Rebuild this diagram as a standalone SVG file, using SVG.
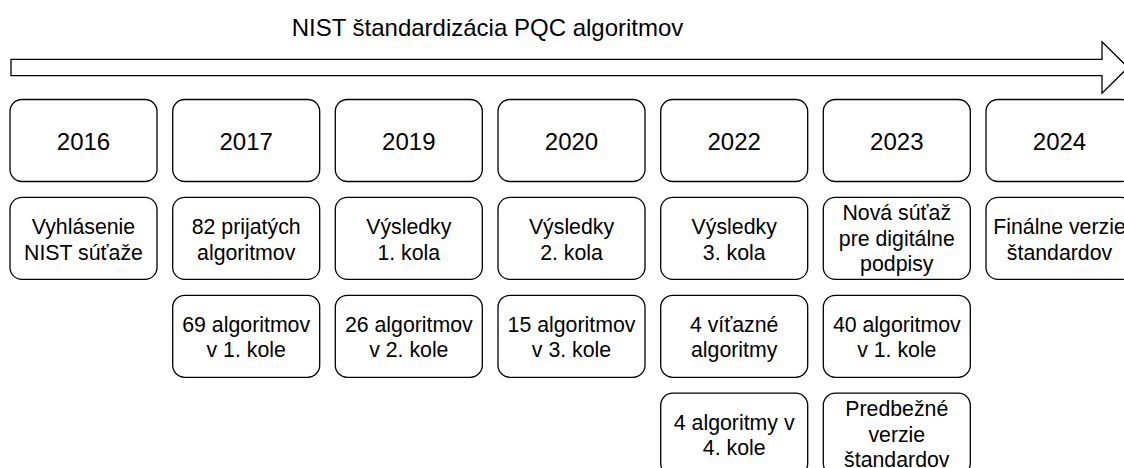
<svg xmlns="http://www.w3.org/2000/svg" width="1124" height="468" viewBox="0 0 1124 468">
<style>
.box{fill:#fff;stroke:#000;stroke-width:1.3}
.yr{font-family:"Liberation Sans",Arial,sans-serif;font-size:24px;fill:#000;text-anchor:middle}
.t{font-family:"Liberation Sans",Arial,sans-serif;font-size:21.3px;fill:#000;text-anchor:middle}
.title{font-family:"Liberation Sans",Arial,sans-serif;font-size:24px;fill:#000;text-anchor:middle}
</style>
<rect width="1124" height="468" fill="#fff"/>
<text class="title" x="487.5" y="36">NIST štandardizácia PQC algoritmov</text>
<g id="timeline-arrow">
<path d="M11,59.3 L1102,59.3 L1102,41.7 L1128,67.5 L1102,93.3 L1102,75.7 L11,75.7 Z" fill="#fff" stroke="#000" stroke-width="1.3" stroke-linejoin="miter"/>
</g>
<g id="connectors"></g>

<!-- column 0 -->
<g id="y2016"><rect class="box" x="10" y="99.5" width="147" height="82" rx="12"/><text class="yr" x="83.5" y="149.5">2016</text></g>
<g id="n2016a"><rect class="box" x="10" y="197.4" width="147" height="82" rx="12"/><text class="t" x="83.5" y="233.9">Vyhlásenie<tspan x="83.5" dy="25.6">NIST súťaže</tspan></text></g>

<!-- column 1 -->
<g id="y2017"><rect class="box" x="172.7" y="99.5" width="147" height="82" rx="12"/><text class="yr" x="246.2" y="149.5">2017</text></g>
<g id="n2017a"><rect class="box" x="172.7" y="197.4" width="147" height="82" rx="12"/><text class="t" x="246.2" y="233.9">82 prijatých<tspan x="246.2" dy="25.6">algoritmov</tspan></text></g>
<g id="n2017b"><rect class="box" x="172.7" y="295.3" width="147" height="82" rx="12"/><text class="t" x="246.2" y="331.8">69 algoritmov<tspan x="246.2" dy="25.6">v 1. kole</tspan></text></g>

<!-- column 2 -->
<g id="y2019"><rect class="box" x="335.3" y="99.5" width="147" height="82" rx="12"/><text class="yr" x="408.8" y="149.5">2019</text></g>
<g id="n2019a"><rect class="box" x="335.3" y="197.4" width="147" height="82" rx="12"/><text class="t" x="408.8" y="233.9">Výsledky<tspan x="408.8" dy="25.6">1. kola</tspan></text></g>
<g id="n2019b"><rect class="box" x="335.3" y="295.3" width="147" height="82" rx="12"/><text class="t" x="408.8" y="331.8">26 algoritmov<tspan x="408.8" dy="25.6">v 2. kole</tspan></text></g>

<!-- column 3 -->
<g id="y2020"><rect class="box" x="498" y="99.5" width="147" height="82" rx="12"/><text class="yr" x="571.5" y="149.5">2020</text></g>
<g id="n2020a"><rect class="box" x="498" y="197.4" width="147" height="82" rx="12"/><text class="t" x="571.5" y="233.9">Výsledky<tspan x="571.5" dy="25.6">2. kola</tspan></text></g>
<g id="n2020b"><rect class="box" x="498" y="295.3" width="147" height="82" rx="12"/><text class="t" x="571.5" y="331.8">15 algoritmov<tspan x="571.5" dy="25.6">v 3. kole</tspan></text></g>

<!-- column 4 -->
<g id="y2022"><rect class="box" x="660.7" y="99.5" width="147" height="82" rx="12"/><text class="yr" x="734.2" y="149.5">2022</text></g>
<g id="n2022a"><rect class="box" x="660.7" y="197.4" width="147" height="82" rx="12"/><text class="t" x="734.2" y="233.9">Výsledky<tspan x="734.2" dy="25.6">3. kola</tspan></text></g>
<g id="n2022b"><rect class="box" x="660.7" y="295.3" width="147" height="82" rx="12"/><text class="t" x="734.2" y="331.8">4 víťazné<tspan x="734.2" dy="25.6">algoritmy</tspan></text></g>
<g id="n2022c"><rect class="box" x="660.7" y="393.2" width="147" height="82" rx="12"/><text class="t" x="734.2" y="429.7">4 algoritmy v<tspan x="734.2" dy="25.6">4. kole</tspan></text></g>

<!-- column 5 -->
<g id="y2023"><rect class="box" x="823.3" y="99.5" width="147" height="82" rx="12"/><text class="yr" x="896.8" y="149.5">2023</text></g>
<g id="n2023a"><rect class="box" x="823.3" y="197.4" width="147" height="82" rx="12"/><text class="t" x="896.8" y="220.2">Nová súťaž<tspan x="896.8" dy="25.6">pre digitálne</tspan><tspan x="896.8" dy="25.6">podpisy</tspan></text></g>
<g id="n2023b"><rect class="box" x="823.3" y="295.3" width="147" height="82" rx="12"/><text class="t" x="896.8" y="331.8">40 algoritmov<tspan x="896.8" dy="25.6">v 1. kole</tspan></text></g>
<g id="n2023c"><rect class="box" x="823.3" y="393.2" width="147" height="82" rx="12"/><text class="t" x="896.8" y="416">Predbežné<tspan x="896.8" dy="25.6">verzie</tspan><tspan x="896.8" dy="25.6">štandardov</tspan></text></g>

<!-- column 6 -->
<g id="y2024"><rect class="box" x="986" y="99.5" width="147" height="82" rx="12"/><text class="yr" x="1059.5" y="149.5">2024</text></g>
<g id="n2024a"><rect class="box" x="986" y="197.4" width="147" height="82" rx="12"/><text class="t" x="1059.5" y="233.9">Finálne verzie<tspan x="1059.5" dy="25.6">štandardov</tspan></text></g>
</svg>
